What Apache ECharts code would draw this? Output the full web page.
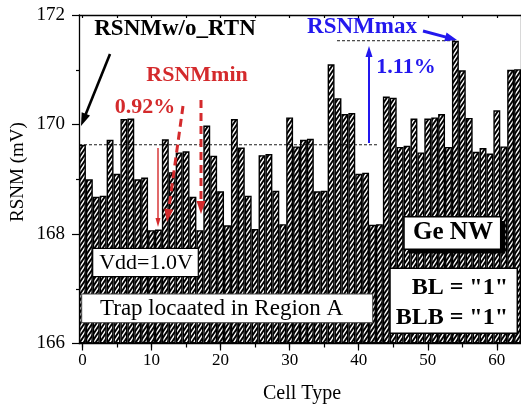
<!DOCTYPE html>
<html><head><meta charset="utf-8">
<script src="https://cdn.jsdelivr.net/npm/echarts@6/dist/echarts.min.js"></script>
<style>html,body{margin:0;padding:0;background:#fff}#c{width:521px;height:408px}</style>
</head><body><div id="c"></div>
<script>
// ---- data ----
const cellTypes = ['0','1','2','3','4','5','6','7','8','9','10','11','12','13','14','15','16','17','18','19',
  '20','21','22','23','24','25','26','27','28','29','30','31','32','33','34','35','36','37','38','39',
  '40','41','42','43','44','45','46','47','48','49','50','51','52','53','54','55','56','57','58','59',
  '60','61','62','63'];
const rsnm = [
  169.63, 169.00, 168.68, 168.70, 169.72, 169.10, 170.10, 170.11, 169.00, 169.03,
  168.07, 168.08, 169.73, 169.13, 169.49, 169.51, 168.68, 168.07, 169.98, 169.43,
  168.78, 168.16, 170.10, 169.58, 168.70, 168.09, 169.44, 169.46, 168.79, 168.18,
  170.13, 169.60, 169.72, 169.74, 168.78, 168.79, 171.10, 170.48, 170.19, 170.21,
  169.10, 169.12, 168.17, 168.18, 170.51, 170.49, 169.59, 169.61, 170.11, 169.49,
  170.11, 170.13, 170.19, 169.59, 171.53, 170.99, 170.12, 169.50, 169.57, 169.47,
  170.26, 169.60, 171.00, 171.01
];
const xTickLabels = ['0','10','20','30','40','50','60'];
const yTickLabels = [166, 168, 170, 172];
const rsnmNoRTN = 169.63;
const rsnmMax = 171.53;

// ---- hatch pattern ----
function makeHatch() {
  const w = 4, h = 6;
  const c = document.createElement('canvas');
  c.width = w; c.height = h;
  const ctx = c.getContext('2d');
  ctx.fillStyle = '#fff'; ctx.fillRect(0, 0, w, h);
  ctx.strokeStyle = '#000'; ctx.lineWidth = 1.9;
  ctx.beginPath();
  for (const dx of [-w, 0, w]) {
    ctx.moveTo(dx - 0.5 * w, h + 0.5 * h);
    ctx.lineTo(dx + 1.5 * w, -0.5 * h);
  }
  ctx.stroke();
  return c;
}
const hatch = makeHatch();

const FONT = '"Liberation Serif", "Times New Roman", serif';
const chart = echarts.init(document.getElementById('c'), null, {renderer: 'canvas'});

const tickEvery = n => (i) => Number(cellTypes[i]) % n === 0;

chart.setOption({
  animation: false,
  backgroundColor: '#fff',
  grid: {left: 79, right: -3.4, top: 15, bottom: 64.5, containLabel: false},
  xAxis: [
    {
      type: 'category', data: cellTypes, position: 'bottom', boundaryGap: true,
      axisLine: {show: true, lineStyle: {color: '#000', width: 1.3}},
      axisTick: {show: true, alignWithLabel: true, interval: tickEvery(10), length: 7, lineStyle: {color: '#000', width: 1.2}},
      axisLabel: {show: true, interval: (i) => xTickLabels.indexOf(cellTypes[i]) >= 0, color: '#000', fontFamily: FONT, fontSize: 17, margin: 9},
      splitLine: {show: false}
    },
    {
      type: 'category', data: cellTypes, position: 'bottom', boundaryGap: true,
      axisLine: {show: false},
      axisTick: {show: true, alignWithLabel: true, interval: tickEvery(5), length: 4, lineStyle: {color: '#000', width: 1.2}},
      axisLabel: {show: false}, splitLine: {show: false}
    },
    {
      type: 'category', data: cellTypes, position: 'top', boundaryGap: true,
      axisLine: {show: true, lineStyle: {color: '#000', width: 1.3}},
      axisTick: {show: true, alignWithLabel: true, inside: true, interval: tickEvery(5), length: 3, lineStyle: {color: '#000', width: 1.2}},
      axisLabel: {show: false}, splitLine: {show: false}
    }
  ],
  yAxis: [
    {
      type: 'value', min: 166, max: 172, interval: 2, startValue: 166,
      axisLine: {show: true, lineStyle: {color: '#000', width: 1.3}},
      axisTick: {show: true, length: 7, lineStyle: {color: '#000', width: 1.2}},
      minorTick: {show: true, splitNumber: 2, length: 3, lineStyle: {color: '#000', width: 1.2}},
      axisLabel: {color: '#000', fontFamily: FONT, fontSize: 19, margin: 14,
        formatter: v => (yTickLabels.indexOf(v) >= 0 ? String(v) : '')},
      splitLine: {show: false}, minorSplitLine: {show: false}
    },
    {
      type: 'value', min: 166, max: 172, interval: 2, position: 'right',
      axisLine: {show: true, lineStyle: {color: '#000', width: 1.3}},
      axisTick: {show: false}, axisLabel: {show: false}, splitLine: {show: false}
    }
  ],
  series: [{
    type: 'bar', data: rsnm, xAxisIndex: 0, yAxisIndex: 0,
    barCategoryGap: 0, clip: true, silent: true,
    itemStyle: {color: {image: hatch, repeat: 'repeat'}, borderColor: '#000', borderWidth: 1.4}
  }]
});

// ---- annotations ----
const RED = '#d42a2c', BLUE = '#2318ee';
function arrow(x1, y1, x2, y2, color, lw, headLen, headW, dash) {
  const dx = x2 - x1, dy = y2 - y1, L = Math.hypot(dx, dy);
  const ux = dx / L, uy = dy / L, px = -uy, py = ux;
  const bx = x2 - ux * headLen, by = y2 - uy * headLen;
  return [
    {type: 'line', z: 100, shape: {x1, y1, x2: x2 - ux * headLen * 0.7, y2: y2 - uy * headLen * 0.7},
      style: {stroke: color, lineWidth: lw, lineDash: dash || null}},
    {type: 'polygon', z: 101, shape: {points: [[x2, y2], [bx + px * headW / 2, by + py * headW / 2], [bx - px * headW / 2, by - py * headW / 2]]},
      style: {fill: color}}
  ];
}
function txt(text, x, y, font, fill, align) {
  return {type: 'text', z: 102, style: {text, x, y, font, fill: fill || '#000', align: align || 'center', verticalAlign: 'middle'}};
}

const yBase = chart.convertToPixel({yAxisIndex: 0}, rsnmNoRTN);
const yMax = chart.convertToPixel({yAxisIndex: 0}, rsnmMax);
const xMaxBar = chart.convertToPixel({xAxisIndex: 0}, '54');

const els = [
  // dashed reference lines
  {type: 'line', z: 99, shape: {x1: 79, y1: yBase, x2: 377, y2: yBase}, style: {stroke: '#000', lineWidth: 0.9, lineDash: [3, 2]}},
  {type: 'line', z: 99, shape: {x1: 337, y1: yMax, x2: xMaxBar, y2: yMax}, style: {stroke: '#000', lineWidth: 0.9, lineDash: [3, 2]}},
  // labels
  txt('RSNMw/o_RTN', 175, 29, 'bold 23px ' + FONT),
  ...arrow(110, 54, 81, 126, '#000', 2.6, 13, 9),
  txt('RSNMmin', 197, 75, 'bold 22px ' + FONT, RED),
  txt('0.92%', 145, 107, 'bold 22px ' + FONT, RED),
  ...arrow(158, 148, 158, 227, RED, 1.4, 9, 5),
  ...arrow(183, 106, 167, 222, RED, 3, 13, 9, [8, 5]),
  ...arrow(201, 100, 201, 214, RED, 3, 13, 9, [8, 5]),
  txt('RSNMmax', 362, 27, 'bold 23px ' + FONT, BLUE),
  ...arrow(423, 31, 457, 40, BLUE, 3, 12, 9),
  txt('1.11%', 406, 67, 'bold 22px ' + FONT, BLUE),
  ...arrow(369, 143, 369, 46, BLUE, 2, 11, 7),
  // boxes
  {type: 'rect', z: 100, shape: {x: 92.7, y: 248.3, width: 105.6, height: 28.4}, style: {fill: '#fff', stroke: '#000', lineWidth: 1.2}},
  txt('Vdd=1.0V', 146, 263, '22px ' + FONT),
  {type: 'rect', z: 100, shape: {x: 81.7, y: 294, width: 291, height: 28.7}, style: {fill: '#fff', stroke: '#444', lineWidth: 1}},
  txt('Trap locaated in Region A', 100, 309, '23px ' + FONT, '#000', 'left'),
  {type: 'rect', z: 100, shape: {x: 408.5, y: 221, width: 96.7, height: 32.6}, style: {fill: '#000'}},
  {type: 'rect', z: 100, shape: {x: 404, y: 216.7, width: 96.7, height: 32.6}, style: {fill: '#fff', stroke: '#000', lineWidth: 1.5}},
  txt('Ge NW', 453, 233, 'bold 25px ' + FONT),
  {type: 'rect', z: 100, shape: {x: 390, y: 268.3, width: 127.3, height: 65}, style: {fill: '#fff', stroke: '#000', lineWidth: 1.5}},
  txt('BL = "1"', 508, 288, 'bold 24px ' + FONT, '#000', 'right'),
  txt('BLB = "1"', 508, 318, 'bold 24px ' + FONT, '#000', 'right'),
  // axis titles
  txt('Cell Type', 302, 394, '20px ' + FONT),
  {type: 'text', z: 102, x: 18, y: 172, rotation: Math.PI / 2,
    style: {text: 'RSNM (mV)', x: 0, y: 0, font: '19px ' + FONT, fill: '#000', align: 'center', verticalAlign: 'middle'}}
];
chart.setOption({graphic: {elements: els}});
</script>
</body></html>
